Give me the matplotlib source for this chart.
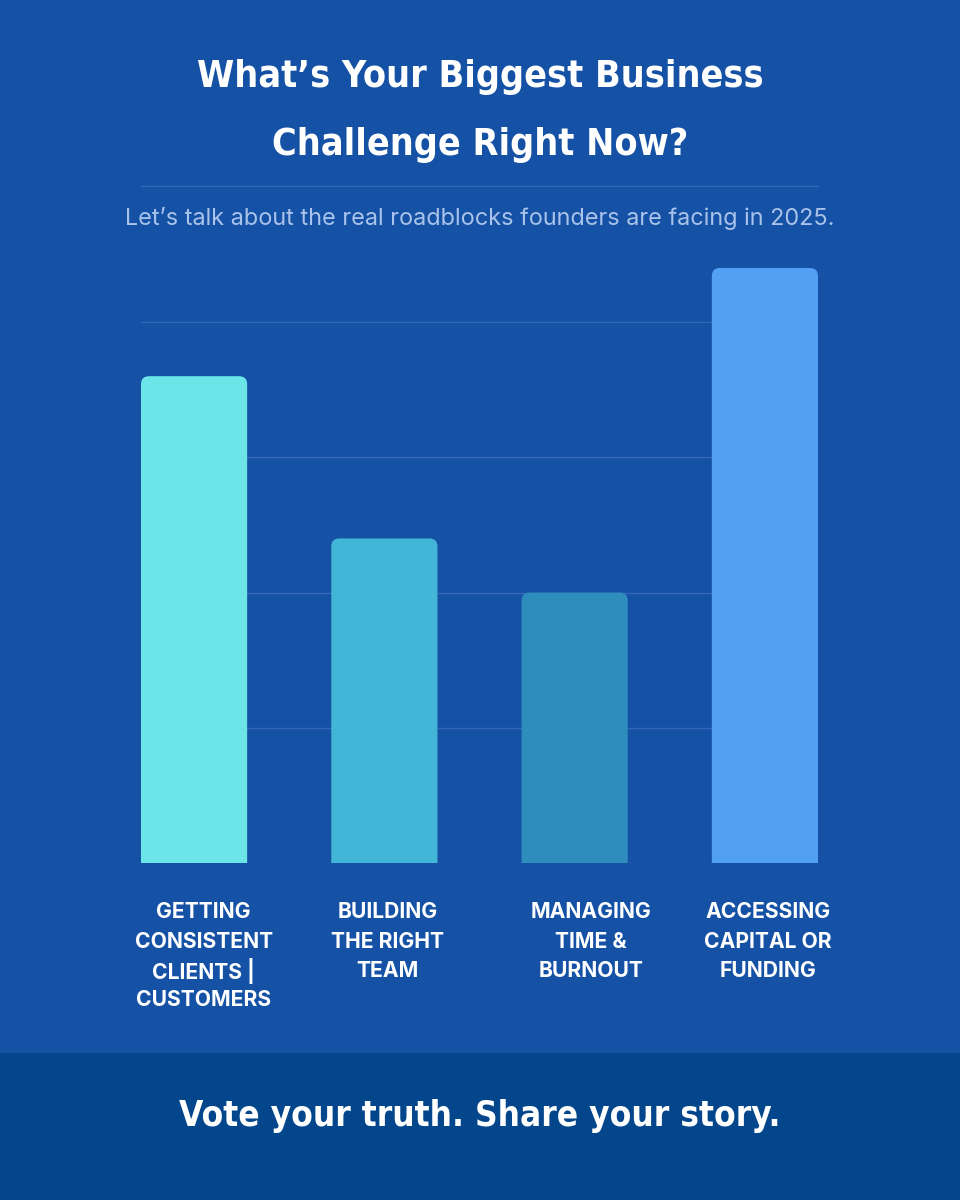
import numpy as np
import matplotlib
matplotlib.use("Agg")
import matplotlib.pyplot as plt
from matplotlib.patches import FancyBboxPatch, Rectangle
from matplotlib.lines import Line2D

# data
categories = [["GETTING", "CONSISTENT", "CLIENTS |", "CUSTOMERS"],
              ["BUILDING", "THE RIGHT", "TEAM"],
              ["MANAGING", "TIME &", "BURNOUT"],
              ["ACCESSING", "CAPITAL OR", "FUNDING"]]
values = [36, 24, 20, 44]
bar_colors = ["#6BE5E8", "#42B6D6", "#2E8DBD", "#52A0F4"]
grid_vals = [0, 10, 20, 30, 40]

title_lines = ["What\u2019s Your Biggest Business", "Challenge Right Now?"]
subtitle = "Let\u2019s talk about the real roadblocks founders are facing in 2025."
footer = "Vote your truth. Share your story."

BG = "#1551A5"
FOOT = "#03468C"
GRID = "#3567B8"

cond = ["DejaVu Sans"]
body = ["Inter", "DejaVu Sans"]

# labels in the original sit a little right of the bar centres (px)
label_shift = [9.5, 3, 16, 3]

fig = plt.figure(figsize=(9.6, 12), dpi=100)
fig.patch.set_facecolor(BG)

# footer band
fig.patches.append(Rectangle((0, 0), 1, 147/1200, transform=fig.transFigure,
                             facecolor=FOOT, edgecolor="none", zorder=0))
# separator under title
fig.add_artist(Line2D([141/960, 818/960], [1 - 186/1200] * 2, transform=fig.transFigure,
                      color=GRID, lw=1))

for yb, line in zip([87, 155], title_lines):
    fig.text(0.5, 1 - yb/1200, line, ha="center", va="baseline", color="white",
             family=cond, weight="bold", stretch="condensed", fontsize=27)
fig.text(0.5, 1 - 218/1200, subtitle, ha="center", va="center", color="#A9C3EA",
         family=body, fontsize=16.9)
fig.text(0.5, 1 - 1126/1200, footer, ha="center", va="baseline", color="white",
         family=cond, weight="bold", stretch="condensed", fontsize=25.2)

ax = fig.add_axes([141/960, 1 - 863/1200, 677/960, 595/1200])
ax.set_facecolor("none")
x = np.arange(len(values))
w = 106 / 190
ax.set_xlim(-w/2, len(values) - 1 + w/2)
ax.set_ylim(0, max(values))

for g in grid_vals:
    ax.axhline(g, color=GRID, lw=1, zorder=1)

px_x = 677 / (ax.get_xlim()[1] - ax.get_xlim()[0])
px_y = 595 / max(values)
r = 8 / px_x
aspect = px_x / px_y
for xi, v, c in zip(x, values, bar_colors):
    ext = 10 / px_y
    p = FancyBboxPatch((xi - w/2, -ext), w, v + ext,
                       boxstyle=f"round,pad=0,rounding_size={r}",
                       mutation_aspect=aspect, facecolor=c, edgecolor="none", zorder=2)
    ax.add_patch(p)

# category labels, one text per line so spacing stays even
for xi, lines, dx in zip(x, categories, label_shift):
    for i, line in enumerate(lines):
        ax.annotate(line, (xi, 0), xycoords=("data", "axes fraction"),
                    xytext=(dx * 0.72, -35.5 - i * 29.3 * 0.72), textcoords="offset points",
                    ha="center", va="center", family=body, weight="bold",
                    fontsize=15.2, color="white")

ax.set_xticks([])
ax.set_yticks([])
for s in ax.spines.values():
    s.set_visible(False)

fig.savefig("out.png", dpi=100, facecolor=BG)
